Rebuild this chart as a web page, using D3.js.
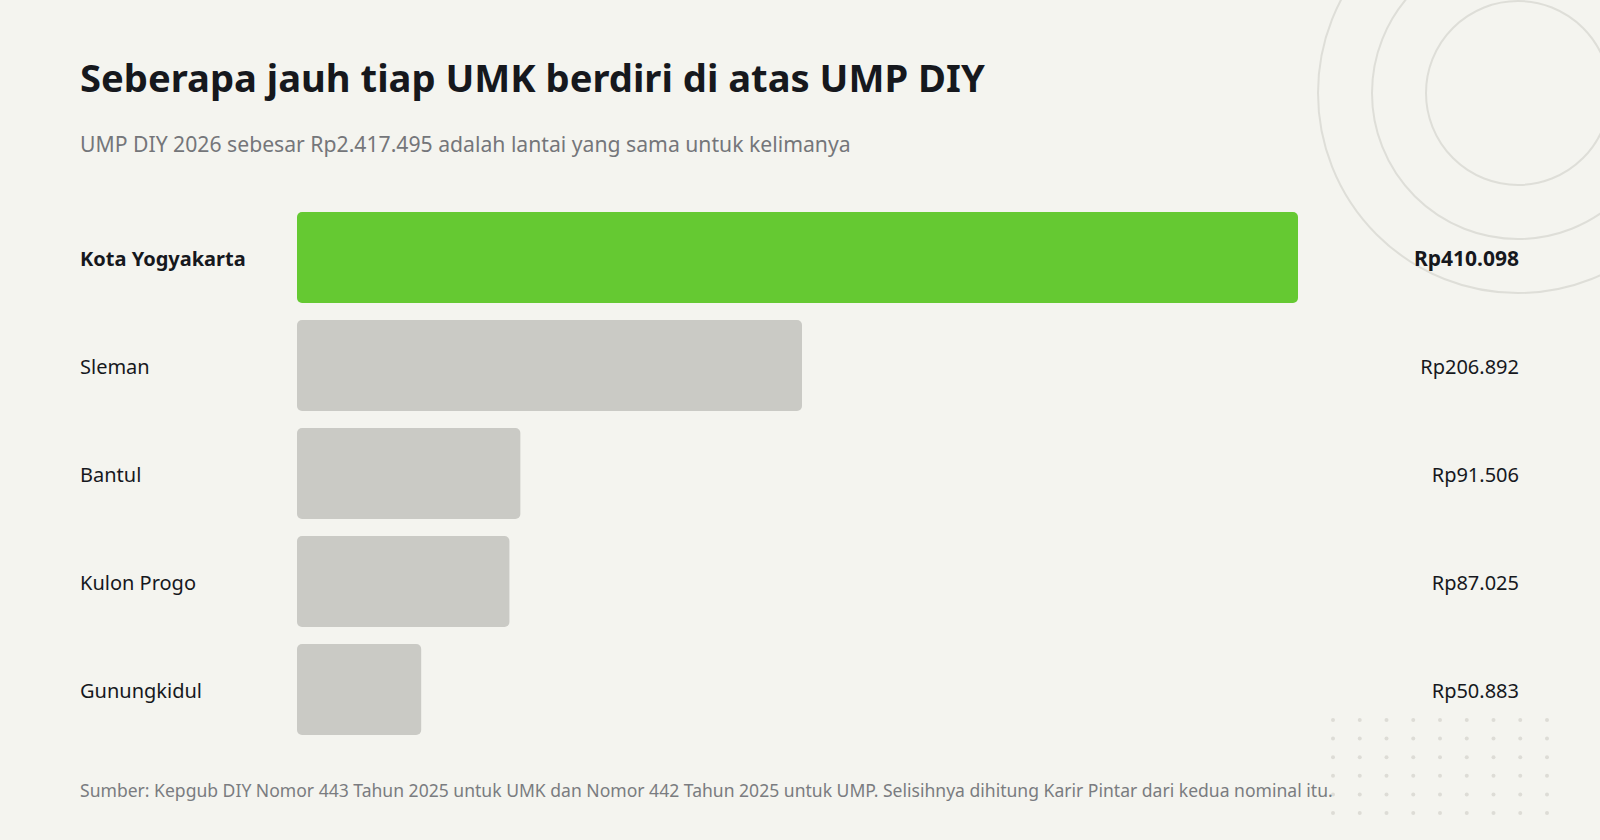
<!DOCTYPE html>
<html>
<head>
<meta charset="utf-8">
<script src="https://cdn.jsdelivr.net/npm/d3@7.9.0/dist/d3.min.js"></script>
<style>
  html, body { margin: 0; padding: 0; background: #f4f4ef; }
  svg { display: block; font-family: "Noto Sans", "Open Sans", sans-serif; }
</style>
</head>
<body>
<svg id="chart" width="1600" height="840"></svg>
<script>
// data: UMK minus UMP DIY 2026, in rupiah
const regions = ["Kota Yogyakarta", "Sleman", "Bantul", "Kulon Progo", "Gunungkidul"];
const gaps = [410098, 206892, 91506, 87025, 50883];
const highlight = "Kota Yogyakarta";

const title = "Seberapa jauh tiap UMK berdiri di atas UMP DIY";
const subtitle = "UMP DIY 2026 sebesar Rp2.417.495 adalah lantai yang sama untuk kelimanya";
const source = "Sumber: Kepgub DIY Nomor 443 Tahun 2025 untuk UMK dan Nomor 442 Tahun 2025 untuk UMP. Selisihnya dihitung Karir Pintar dari kedua nominal itu.";

const rows = regions.map((name, i) => ({ name, gap: gaps[i] }));
const fmt = v => "Rp" + d3.format(",")(v).replace(/,/g, ".");

const svg = d3.select("#chart");

// background decoration: rings top right, dot grid bottom right
const deco = svg.append("g");
[92, 146, 200].forEach(r => {
  deco.append("circle")
    .attr("cx", 1518).attr("cy", 93).attr("r", r)
    .attr("fill", "none").attr("stroke", "#deded8").attr("stroke-width", 2);
});
d3.range(6).forEach(row => {
  d3.range(9).forEach(col => {
    deco.append("circle")
      .attr("cx", 1333 + col * 26.75)
      .attr("cy", 720 + row * 18.6)
      .attr("r", 2)
      .attr("fill", "#dddcd6");
  });
});

// fit a text element to the width it has in the reference
function fitWidth(sel, target) {
  const w = sel.node().getComputedTextLength();
  const fs = parseFloat(sel.attr("font-size"));
  sel.attr("font-size", fs * target / w);
}

const t = svg.append("text")
  .attr("x", 80).attr("y", 92)
  .attr("font-size", 40).attr("font-weight", 700)
  .attr("fill", "#16181d")
  .text(title);
fitWidth(t, 905);

const st = svg.append("text")
  .attr("x", 80).attr("y", 152)
  .attr("font-size", 22)
  .attr("fill", "#74767a")
  .text(subtitle);
fitWidth(st, 771);

const x = d3.scaleLinear()
  .domain([0, d3.max(gaps)])
  .range([297, 1298]);

const y = d3.scaleBand()
  .domain(regions)
  .range([212, 735])
  .paddingInner(17 / 108)
  .paddingOuter(0);

const g = svg.append("g");

g.selectAll("rect.bar")
  .data(rows)
  .join("rect")
  .attr("class", "bar")
  .attr("x", x(0))
  .attr("y", d => y(d.name))
  .attr("width", d => x(d.gap) - x(0))
  .attr("height", y.bandwidth())
  .attr("rx", 5).attr("ry", 5)
  .attr("fill", d => d.name === highlight ? "#65c932" : "#cacac5");

g.selectAll("text.name")
  .data(rows)
  .join("text")
  .attr("class", "name")
  .attr("x", 80)
  .attr("y", d => y(d.name) + y.bandwidth() / 2 + 8)
  .attr("font-size", 20)
  .attr("font-weight", d => d.name === highlight ? 700 : 400)
  .attr("fill", "#16181d")
  .text(d => d.name);

g.selectAll("text.value")
  .data(rows)
  .join("text")
  .attr("class", "value")
  .attr("x", 1519)
  .attr("y", d => y(d.name) + y.bandwidth() / 2 + 8)
  .attr("text-anchor", "end")
  .attr("font-size", d => d.name === highlight ? 21 : 20)
  .attr("font-weight", d => d.name === highlight ? 700 : 400)
  .attr("fill", "#16181d")
  .text(d => fmt(d.gap));

const src = svg.append("text")
  .attr("x", 80).attr("y", 797)
  .attr("font-size", 17)
  .attr("fill", "#7a7c80")
  .text(source);
fitWidth(src, 1253);
</script>
</body>
</html>
